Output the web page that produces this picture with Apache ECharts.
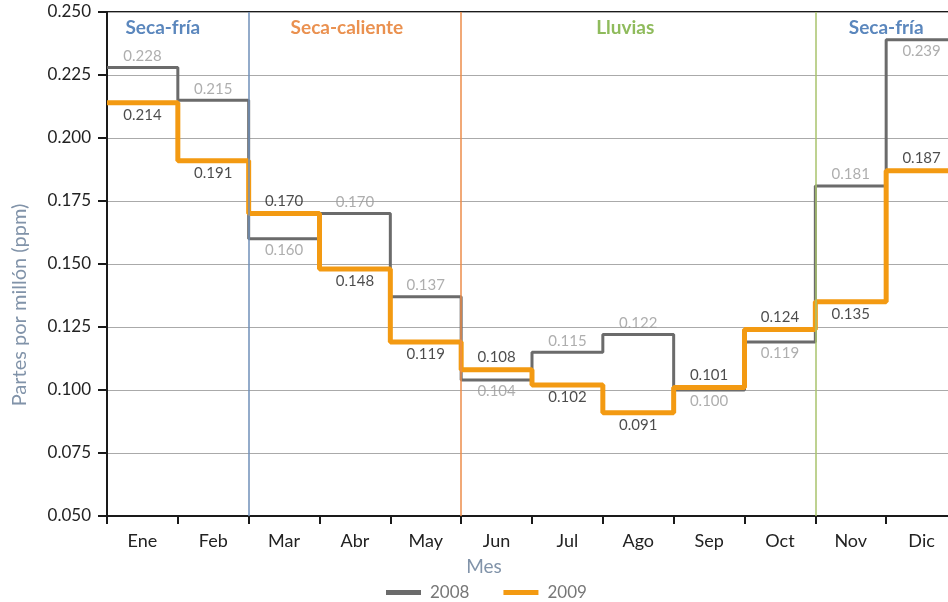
<!DOCTYPE html>
<html><head><meta charset="utf-8">
<script src="https://cdn.jsdelivr.net/npm/echarts@6/dist/echarts.min.js"></script>
<style>html,body{margin:0;padding:0;background:#fff}#c{width:948px;height:602px}</style>
</head><body><div id="c"></div><script>
// ---- data ----
const months = ['Ene','Feb','Mar','Abr','May','Jun','Jul','Ago','Sep','Oct','Nov','Dic'];
const ppm2008 = [0.228,0.215,0.160,0.170,0.137,0.104,0.115,0.122,0.100,0.119,0.181,0.239];
const ppm2009 = [0.214,0.191,0.170,0.148,0.119,0.108,0.102,0.091,0.101,0.124,0.135,0.187];
const seasonNames = ['Seca-fría','Seca-caliente','Lluvias','Seca-fría'];
const seasonStartMonth = [0,2,5,10];
const seasonEndMonth = [2,5,10,12];
const yMin = 0.05, yMax = 0.25, yStep = 0.025;

// ---- styles ----
const seasonColors = ['#5b87bd','#ea9150','#8fbb5c','#5b87bd'];
const dividerColors = ['#6f8fb8','#ec8d4a','#a9c36d'];
const seasonLabelOffset = [[-15,0],[-8,0],[-13,0],[0,0]];
const pos2008 = ['top','top','bottom','top','top','bottom','top','top','bottom','bottom','top','bottom'];
const pos2009 = ['bottom','bottom','top','bottom','bottom','top','bottom','bottom','top','top','bottom','top'];
const FONT = 'Lato';

function steps(vals){
  const d = vals.map((v,i)=>[i,v]);
  d.push([vals.length, vals[vals.length-1]]);
  return d;
}
function labelPts(vals,pos){
  return vals.map((v,i)=>({value:[i+0.5,v], label:{position:pos[i]}}));
}

const chart = echarts.init(document.getElementById('c'));
chart.setOption({
  animation:false,
  textStyle:{fontFamily:FONT},
  grid:{left:107, top:12, width:850, height:504, outerBoundsMode:'none', containLabel:false,
        show:true, borderColor:'#1a1a1a', borderWidth:2, backgroundColor:'transparent'},
  xAxis:[{
    type:'category', data:months, boundaryGap:true,
    axisLine:{lineStyle:{color:'#1a1a1a', width:2}},
    axisTick:{show:true, length:8, lineStyle:{color:'#1a1a1a', width:2}},
    axisLabel:{color:'#222', fontSize:18, margin:16, fontFamily:FONT},
    splitLine:{show:false}
  },{
    type:'value', min:0, max:months.length, show:false, gridIndex:0
  }],
  yAxis:{
    type:'value', min:yMin, max:yMax, interval:yStep,
    axisLine:{show:true, lineStyle:{color:'#1a1a1a', width:2}},
    axisTick:{show:true, length:9, lineStyle:{color:'#1a1a1a', width:2}},
    axisLabel:{color:'#222', fontSize:17, margin:16, fontFamily:FONT, formatter:v=>v.toFixed(3)},
    splitLine:{lineStyle:{color:'#aaaaaa', width:1}}
  },
  legend:{
    data:['2008','2009'], left:381, top:579, icon:'rect', itemWidth:35, itemHeight:5, itemGap:34,
    textStyle:{color:'#777', fontSize:17, fontFamily:FONT, padding:[0,0,0,4]}
  },
  graphic:[
    {type:'text', x:20, y:305, rotation:Math.PI/2, style:{text:'Partes por millón (ppm)', fill:'#8193a9', font:'20px '+FONT, textAlign:'center', textVerticalAlign:'middle'}},
    {type:'text', x:484, y:567, style:{text:'Mes', fill:'#8193a9', font:'19px '+FONT, textAlign:'center', textVerticalAlign:'middle'}}
  ],
  series:[
    {name:'2008', type:'line', xAxisIndex:1, step:'end', data:steps(ppm2008), symbol:'none',
     color:'#6b6b6b', lineStyle:{color:'#6b6b6b', width:3}, z:2},
    {name:'2009', type:'line', xAxisIndex:1, step:'end', data:steps(ppm2009), symbol:'none',
     color:'#f39a12', lineStyle:{color:'#f39a12', width:5}, z:3},
    {name:'lab2008', type:'scatter', xAxisIndex:1, data:labelPts(ppm2008,pos2008), symbolSize:0, z:4,
     label:{show:true, distance:4, color:'#9a9a9a', fontSize:15, fontFamily:FONT, formatter:p=>p.value[1].toFixed(3)}, silent:true},
    {name:'lab2009', type:'scatter', xAxisIndex:1, data:labelPts(ppm2009,pos2009), symbolSize:0, z:4,
     label:{show:true, distance:5, color:'#1e1e1e', fontSize:15, fontFamily:FONT, formatter:p=>p.value[1].toFixed(3)}, silent:true},
    {name:'seasons', type:'line', xAxisIndex:1, data:[], z:5, silent:true,
     markLine:{symbol:'none', silent:true, label:{show:false},
       data:seasonStartMonth.slice(1).map((m,i)=>({xAxis:m, lineStyle:{color:dividerColors[i], width:1.5, type:'solid'}}))},
     markArea:{silent:true, itemStyle:{color:'rgba(0,0,0,0)'},
       data:seasonNames.map((n,i)=>[
         {xAxis:seasonStartMonth[i], name:n, label:{color:seasonColors[i], offset:seasonLabelOffset[i]}},
         {xAxis:seasonEndMonth[i]}
       ]),
       label:{show:true, position:'insideTop', distance:6, fontSize:19, fontWeight:'bold', fontFamily:FONT}}
    }
  ]
});
</script></body></html>
